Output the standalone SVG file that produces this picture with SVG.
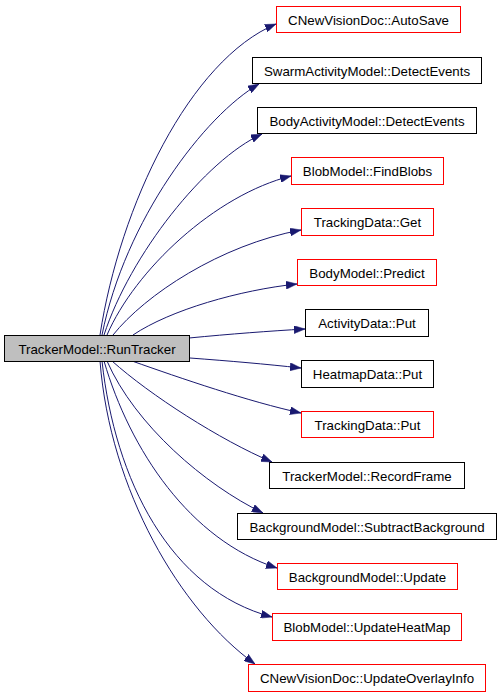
<svg xmlns="http://www.w3.org/2000/svg" width="501" height="696" viewBox="0 0 501 696">
<style>
.n rect{fill:#ffffff;stroke:#000000;stroke-width:1}
.n.r rect{stroke:#ff0000}
.n.m rect{fill:#bfbfbf}
.n text{font-family:"Liberation Sans",Arial,Helvetica,sans-serif;font-size:13.3px;fill:#000000;text-anchor:middle}
.e path{fill:none;stroke:#191970;stroke-width:1;marker-end:url(#ah)}
</style>
<defs>
<marker id="ah" markerUnits="userSpaceOnUse" viewBox="0 0 11 8" refX="11" refY="4" markerWidth="11" markerHeight="8" orient="auto">
<path d="M0,0 L11,4 L0,8 z" fill="#191970" stroke="#191970" stroke-width="0.5"/>
</marker>
</defs>
<rect width="501" height="696" fill="#ffffff"/>
<g id="edges" class="e">
<path d="M100,335 C120,205 190,60 276,24"/>
<path d="M102,335 C125,220 205,115 259,84"/>
<path d="M104,335 C130,255 205,160 262,134"/>
<path d="M107,335 C135,270 215,195 291,176"/>
<path d="M113,335 C145,295 220,245 301,230"/>
<path d="M133,335 C170,310 240,290 297,284"/>
<path d="M189,338 C230,334 270,331 305,329"/>
<path d="M190,358 C230,361 265,364 301,368"/>
<path d="M132,361 C180,378 250,402 301,413"/>
<path d="M112,361 C150,395 220,440 272,462"/>
<path d="M107,361 C135,425 205,485 263,513"/>
<path d="M104,361 C130,450 190,540 277,568"/>
<path d="M102,361 C115,480 170,590 272,617"/>
<path d="M100,361 C110,490 180,610 255,664"/>
</g>
<g id="n0" class="n m"><rect x="4.5" y="335.5" width="185" height="26"/><text x="97" y="354">TrackerModel::RunTracker</text></g>
<g id="n1" class="n r"><rect x="276.5" y="6.5" width="184" height="26"/><text x="368.5" y="25">CNewVisionDoc::AutoSave</text></g>
<g id="n2" class="n"><rect x="252.5" y="57.5" width="229" height="26"/><text x="367" y="76">SwarmActivityModel::DetectEvents</text></g>
<g id="n3" class="n"><rect x="257.5" y="107.5" width="219" height="26"/><text x="367" y="126">BodyActivityModel::DetectEvents</text></g>
<g id="n4" class="n r"><rect x="291.5" y="157.5" width="152" height="27"/><text x="367.5" y="176">BlobModel::FindBlobs</text></g>
<g id="n5" class="n r"><rect x="301.5" y="208.5" width="132" height="27"/><text x="367.5" y="227">TrackingData::Get</text></g>
<g id="n6" class="n r"><rect x="297.5" y="259.5" width="139" height="26"/><text x="367" y="278">BodyModel::Predict</text></g>
<g id="n7" class="n"><rect x="305.5" y="309.5" width="123" height="27"/><text x="367" y="328">ActivityData::Put</text></g>
<g id="n8" class="n"><rect x="301.5" y="360.5" width="132" height="27"/><text x="367.5" y="379">HeatmapData::Put</text></g>
<g id="n9" class="n r"><rect x="301.5" y="411.5" width="132" height="26"/><text x="367.5" y="430">TrackingData::Put</text></g>
<g id="n10" class="n"><rect x="269.5" y="462.5" width="195" height="26"/><text x="367" y="481">TrackerModel::RecordFrame</text></g>
<g id="n11" class="n"><rect x="237.5" y="513.5" width="259" height="26"/><text x="367" y="532">BackgroundModel::SubtractBackground</text></g>
<g id="n12" class="n r"><rect x="277.5" y="563.5" width="180" height="26"/><text x="367.5" y="582">BackgroundModel::Update</text></g>
<g id="n13" class="n r"><rect x="272.5" y="613.5" width="189" height="27"/><text x="367" y="632">BlobModel::UpdateHeatMap</text></g>
<g id="n14" class="n r"><rect x="248.5" y="664.5" width="237" height="27"/><text x="367" y="683">CNewVisionDoc::UpdateOverlayInfo</text></g>
</svg>
